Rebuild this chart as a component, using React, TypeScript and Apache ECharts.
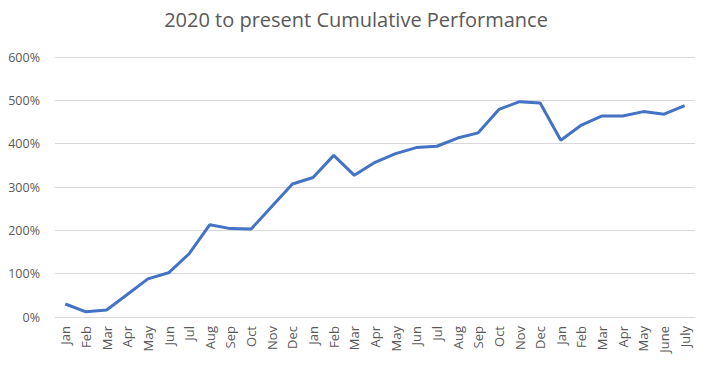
import React, { useEffect, useRef } from "react";
import * as echarts from "echarts";

const categories = [
  "Jan", "Feb", "Mar", "Apr", "May", "Jun", "Jul", "Aug", "Sep", "Oct", "Nov", "Dec",
  "Jan", "Feb", "Mar", "Apr", "May", "Jun", "Jul", "Aug", "Sep", "Oct", "Nov", "Dec",
  "Jan", "Feb", "Mar", "Apr", "May", "June", "July",
];

const performance = [
  30, 12, 16, 52, 88, 102, 146, 213, 204, 203, 255, 307,
  322, 373, 327, 357, 377, 391, 394, 413, 425, 479, 497, 494,
  408, 443, 464, 464, 474, 468, 488,
];

const titleText = "2020 to present Cumulative Performance";

export default function App() {
  const ref = useRef<HTMLDivElement>(null);
  useEffect(() => {
    if (!ref.current) return;
    const chart = echarts.init(ref.current, null, { renderer: "svg" });
    chart.setOption({
      animation: false,
      backgroundColor: "#ffffff",
      title: {
        text: titleText,
        left: "center",
        top: 4,
        textStyle: {
          fontFamily: "Open Sans",
          fontSize: 20,
          fontWeight: "normal",
          color: "#595959",
        },
      },
      grid: { left: 55, right: 17, top: 57, bottom: 48 },
      xAxis: {
        type: "category",
        data: categories,
        boundaryGap: true,
        axisLine: { show: true, lineStyle: { color: "#d9d9d9", width: 1 } },
        axisTick: { show: false },
        axisLabel: {
          rotate: 90,
          interval: 0,
          color: "#595959",
          fontFamily: "Open Sans",
          fontSize: 13,
          margin: 9,
        },
      },
      yAxis: {
        type: "value",
        min: 0,
        max: 600,
        interval: 100,
        axisLine: { show: false },
        axisTick: { show: false },
        splitLine: { lineStyle: { color: "#d9d9d9", width: 1 } },
        axisLabel: {
          formatter: "{value}%",
          color: "#595959",
          fontFamily: "Open Sans",
          fontSize: 12.5,
          margin: 15,
        },
      },
      series: [
        {
          type: "line",
          data: performance,
          symbol: "none",
          lineStyle: { color: "#4472C4", width: 3 },
          itemStyle: { color: "#4472C4" },
        },
      ],
    });
    return () => chart.dispose();
  }, []);
  return (
    <div
      ref={ref}
      style={{ position: "fixed", left: 0, top: 0, width: 712, height: 365 }}
    />
  );
}
